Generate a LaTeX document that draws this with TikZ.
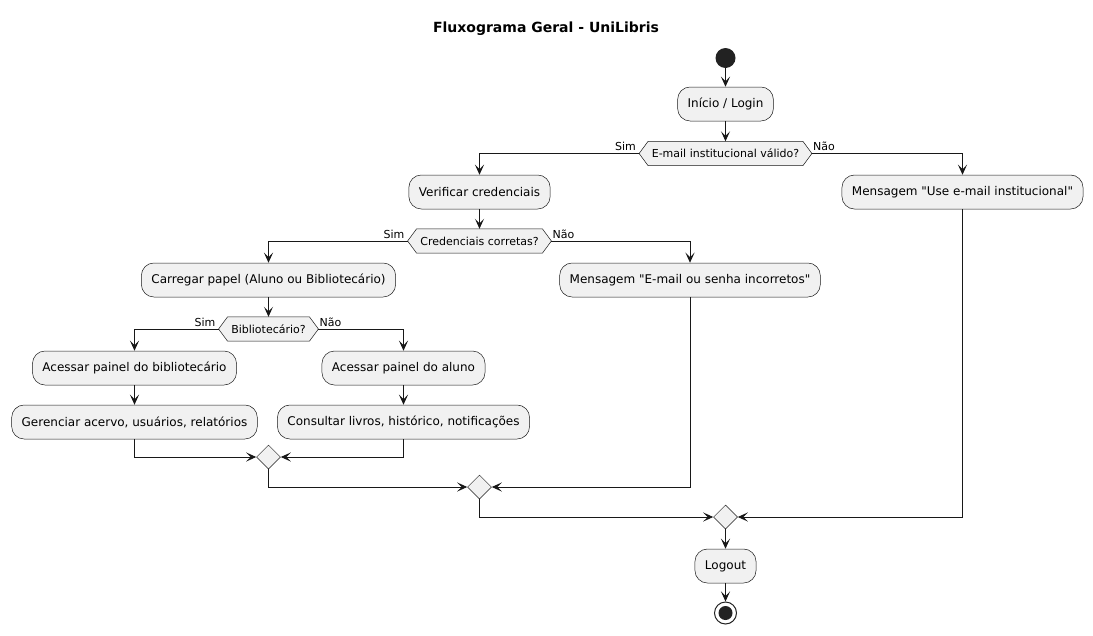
\documentclass[tikz,border=0pt]{standalone}
\usepackage{fontspec}
\setmainfont{DejaVu Sans}[Ligatures=TeXOff]
\usetikzlibrary{arrows.meta,backgrounds,shapes.geometric}
\definecolor{lnc}{HTML}{181818}
\definecolor{fillc}{HTML}{F1F1F1}
\definecolor{dotc}{HTML}{222222}
\newcommand{\myfs}[1]{\fontsize{#1}{#1}\selectfont}
\newcommand{\hexa}[1]{%
  \begin{pgfonlayer}{background}
    \draw[hexst] ([xshift=-9pt]#1.west) -- (#1.north west) -- (#1.north east)
      -- ([xshift=9pt]#1.east) -- (#1.south east) -- (#1.south west) -- cycle;
  \end{pgfonlayer}
  \coordinate (#1L) at ([xshift=-9pt]#1.west);
  \coordinate (#1R) at ([xshift=9pt]#1.east);
}
\tikzset{
  act/.style={draw=lnc, line width=0.5pt, fill=fillc, rounded corners=12.5pt,
    minimum height=34pt, inner xsep=10pt, inner ysep=0pt, font=\myfs{12}},
  dec/.style={draw=none, minimum height=24pt, inner xsep=3.5pt, inner ysep=0pt, font=\myfs{11}},
  hexst/.style={draw=lnc, line width=0.5pt, fill=fillc},
  mrg/.style={diamond, draw=lnc, line width=0.5pt, fill=fillc, minimum size=24pt, inner sep=0pt},
  arr/.style={draw=lnc, line width=1pt, -{Stealth[length=10pt,width=9pt,inset=4.5pt]}},
  lblL/.style={anchor=south east, inner sep=1pt, font=\myfs{11}},
  lblR/.style={anchor=south west, inner sep=1pt, font=\myfs{11}},
}
\begin{document}
\begin{tikzpicture}[x=1pt,y=-1pt]
\useasboundingbox (0,0) rectangle (1093,635);
\node[font=\bfseries\myfs{14}] (title) at (546,29) {Fluxograma Geral - UniLibris};

\node[circle, fill=dotc, minimum size=20pt, inner sep=0pt] (start) at (725.5,58) {};
\node[act] (login) at (725.5,104) {Início / Login};
\node[dec] (d1) at (725.5,153.5) {E-mail institucional válido?};
\hexa{d1}
\node[act] (verif) at (479.5,192) {Verificar credenciais};
\node[act] (msgU) at (962.5,192) {Mensagem "Use e-mail institucional"};
\node[dec] (d2) at (479.5,241) {Credenciais corretas?};
\hexa{d2}
\node[act] (carr) at (268.5,280) {Carregar papel (Aluno ou Bibliotecário)};
\node[act] (msgE) at (690,280) {Mensagem "E-mail ou senha incorretos"};
\node[dec] (d3) at (268.5,329) {Bibliotecário?};
\hexa{d3}
\node[act] (abib) at (134.5,368) {Acessar painel do bibliotecário};
\node[act] (aal) at (403.5,368) {Acessar painel do aluno};
\node[act] (ger) at (134.5,422) {Gerenciar acervo, usuários, relatórios};
\node[act] (cons) at (403.5,422) {Consultar livros, histórico, notificações};
\node[mrg] (m1) at (268.5,457) {};
\node[mrg] (m2) at (479.5,487) {};
\node[mrg] (m3) at (725.5,517) {};
\node[act] (logout) at (725.5,566) {Logout};
\node[circle, draw=dotc, line width=1pt, fill=white, minimum size=22pt, inner sep=0pt] (end) at (725.5,613) {};
\node[circle, fill=dotc, minimum size=14pt, inner sep=0pt] (endin) at (end.center) {};

\node[lblL, xshift=-2pt, yshift=1.5pt] (s1) at (d1L) {Sim};
\node[lblR, yshift=1.5pt] (n1) at (d1R) {Não};
\node[lblL, xshift=-2pt, yshift=1.5pt] (s2) at (d2L) {Sim};
\node[lblR, yshift=1.5pt] (n2) at (d2R) {Não};
\node[lblL, xshift=-2pt, yshift=1.5pt] (s3) at (d3L) {Sim};
\node[lblR, yshift=1.5pt] (n3) at (d3R) {Não};

\draw[arr] (start) -- (login);
\draw[arr] (login) -- (d1);
\draw[arr] (d1L) -| (verif);
\draw[arr] (d1R) -| (msgU);
\draw[arr] (verif) -- (d2);
\draw[arr] (d2L) -| (carr);
\draw[arr] (d2R) -| (msgE);
\draw[arr] (carr) -- (d3);
\draw[arr] (d3L) -| (abib);
\draw[arr] (d3R) -| (aal);
\draw[arr] (abib) -- (ger);
\draw[arr] (aal) -- (cons);
\draw[arr] (ger) |- (m1);
\draw[arr] (cons) |- (m1);
\draw[arr] (m1) |- (m2);
\draw[arr] (msgE) |- (m2);
\draw[arr] (m2) |- (m3);
\draw[arr] (msgU) |- (m3);
\draw[arr] (m3) -- (logout);
\draw[arr] (logout) -- (end);
\end{tikzpicture}
\end{document}
